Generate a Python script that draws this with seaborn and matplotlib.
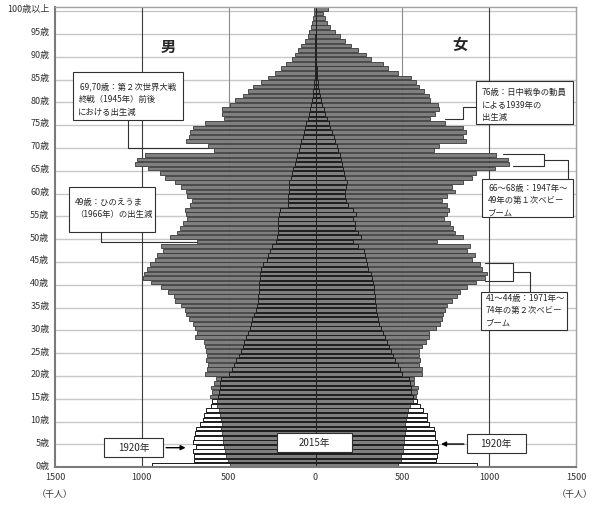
import pandas as pd
import matplotlib.pyplot as plt
import seaborn as sns
from matplotlib.patches import Rectangle

# population by single year of age (thousands), age 100 = 100歳以上
ages = list(range(101))

male_2015 = [
    494, 505, 515, 520, 525, 530, 535, 540, 545, 540,
    545, 550, 555, 565, 570, 609, 595, 603, 584, 571,
    634, 622, 618, 628, 622, 628, 634, 640, 692, 680,
    695, 705, 730, 743, 749, 772, 807, 814, 849, 891,
    945, 993, 987, 970, 955, 926, 911, 878, 891, 680,
    840, 795, 782, 763, 738, 744, 753, 724, 711, 738,
    744, 776, 811, 868, 897, 964, 1041, 1026, 984, 584,
    618, 744, 730, 724, 705, 634, 526, 538, 538, 494,
    461, 417, 388, 359, 311, 273, 235, 196, 167, 138,
    119, 100, 81, 60, 46, 35, 27, 19, 13, 8, 8,
]
female_2015 = [
    475, 490, 495, 505, 505, 510, 512, 515, 520, 515,
    520, 525, 535, 545, 560, 580, 585, 589, 570, 570,
    612, 612, 598, 604, 598, 598, 612, 636, 655, 655,
    694, 718, 726, 737, 745, 760, 788, 817, 832, 874,
    927, 978, 988, 958, 950, 904, 918, 874, 889, 700,
    851, 804, 791, 772, 738, 760, 766, 760, 728, 757,
    804, 785, 848, 904, 927, 1031, 1113, 1107, 1041, 681,
    709, 866, 851, 866, 848, 747, 658, 690, 709, 705,
    658, 652, 624, 596, 577, 548, 473, 419, 387, 321,
    293, 245, 207, 169, 141, 113, 84, 65, 52, 41, 70,
]
male_1920 = [
    940, 697, 697, 705, 686, 705, 697, 692, 686, 663,
    645, 641, 628, 603, 595, 560, 555, 550, 548, 545,
    497, 480, 470, 455, 440, 430, 420, 410, 400, 390,
    380, 372, 365, 355, 345, 334, 332, 330, 328, 326,
    325, 320, 317, 315, 300, 282, 273, 262, 250, 225,
    219, 218, 216, 215, 214, 212, 206, 160, 158, 156,
    155, 152, 150, 140, 135, 129, 120, 112, 105, 97,
    90, 82, 74, 66, 59, 52, 45, 38, 31, 25,
    19, 15, 12, 9, 7, 5, 4, 3, 2, 2,
    1, 1, 1, 1, 1, 0, 0, 0, 0, 0, 0,
]
female_1920 = [
    931, 694, 699, 703, 703, 699, 688, 688, 684, 655,
    642, 642, 617, 602, 585, 560, 550, 548, 545, 540,
    500, 485, 475, 460, 445, 433, 422, 410, 398, 387,
    376, 368, 362, 356, 351, 346, 343, 340, 338, 336,
    333, 325, 318, 304, 298, 292, 286, 279, 245, 217,
    260, 245, 230, 225, 217, 236, 217, 185, 176, 172,
    169, 175, 179, 170, 165, 158, 150, 145, 140, 132,
    125, 115, 105, 95, 85, 78, 65, 55, 47, 40,
    33, 27, 22, 17, 13, 10, 8, 6, 4, 3,
    2, 2, 1, 1, 1, 1, 0, 0, 0, 0, 0,
]

age_ticks = list(range(0, 101, 5))
age_labels = [f'{a}歳' for a in range(0, 100, 5)] + ['100歳以上']
x_ticks = [-1500, -1000, -500, 0, 500, 1000, 1500]
x_labels = ['1500', '1000', '500', '0', '500', '1000', '1500']

df = pd.DataFrame({
    'age': ages,
    'm2015': [-v for v in male_2015],
    'f2015': female_2015,
    'm1920': [-v for v in male_1920],
    'f1920': female_1920,
})

sns.set_style('white')
plt.rcParams['font.family'] = ['Noto Sans CJK JP', 'DejaVu Sans']

fig = plt.figure(figsize=(6, 5.13), dpi=100)
ax = fig.add_axes([55 / 600, 1 - 467.3 / 513, 521 / 600, 460.6 / 513])

# background grid
for a in age_ticks[1:]:
    ax.axhline(a - 0.5, color='#c8c8c8', lw=1.0, zorder=0)
ax.axvline(0, color='#c8c8c8', lw=0.8, zorder=0)
for xv in (-500, 500):
    ax.axvline(xv, color='#8c8c8c', lw=0.8, zorder=0)
for xv in (-1000, 1000):
    ax.axvline(xv, color='#3c3c3c', lw=0.8, zorder=0)

bar_kw = dict(y='age', orient='y', native_scale=True, errorbar=None,
              width=0.82, saturation=1, ax=ax)

# 1920 (white), 2015 (grey), then 1920 outline on top
for col in ['m1920', 'f1920']:
    sns.barplot(data=df, x=col, color='white', edgecolor='#303030', linewidth=0.6, **bar_kw)
for col in ['m2015', 'f2015']:
    sns.barplot(data=df, x=col, color='#7f7f7f', edgecolor='#383838', linewidth=0.6, **bar_kw)
for col in ['m1920', 'f1920']:
    sns.barplot(data=df, x=col, color='#202020', fill=False, linewidth=0.7, **bar_kw)

ax.set_xlim(-1500, 1500)
ax.set_ylim(-0.5, 100.5)
ax.set_yticks(age_ticks, age_labels)
ax.set_xticks(x_ticks, x_labels)
ax.tick_params(length=0, labelsize=6.5, colors='#333333', pad=4)
ax.set_xlabel('')
ax.set_ylabel('')
for side in ['left', 'bottom']:
    ax.spines[side].set_color('#7a7a7a')
    ax.spines[side].set_linewidth(1.5)
for side in ['top', 'right']:
    ax.spines[side].set_color('#a0a0a0')
    ax.spines[side].set_linewidth(1.0)

ax.text(-846, 91.7, '男', fontsize=11, fontweight='bold', ha='center', va='center')
ax.text(832, 92.1, '女', fontsize=11, fontweight='bold', ha='center', va='center')
ax.text(-1500, -6.4, '（千人）', fontsize=6.5, ha='center', va='center', color='#333333', clip_on=False)
ax.text(1495, -6.4, '（千人）', fontsize=6.5, ha='center', va='center', color='#333333', clip_on=False)


def box(x0, x1, y0, y1):
    ax.add_patch(Rectangle((x0, y0), x1 - x0, y1 - y0, facecolor='white',
                           edgecolor='#303030', lw=0.8, zorder=6, clip_on=False))


def path(xs, ys):
    ax.plot(xs, ys, color='#303030', lw=0.8, zorder=5, clip_on=False)


note_kw = dict(fontsize=6, ha='left', va='center', linespacing=1.5, zorder=7)

# 69,70歳
box(-1398, -761, 75.7, 86.1)
ax.text(-1365, 80.1, ' 69,70歳：第２次世界大戦\n終戦（1945年）前後\nにおける出生減', **note_kw)
path([-1079, -1079, -male_2015[70]], [75.7, 69.6, 69.6])

# 49歳
box(-1417, -922, 51.2, 60.9)
ax.text(-1384, 56.2, '49歳：ひのえうま\n（1966年）の出生減', **note_kw)
path([-1237, -1237, -male_2015[49]], [51.2, 48.8, 48.8])

# 76歳
box(924, 1484, 74.8, 84.1)
ax.text(957, 78.9, '76歳：日中戦争の動員\nによる1939年の\n出生減', **note_kw)
path([924, 847, 847, female_2015[75]], [78.5, 78.5, 75.9, 75.9])

# 66~68歳
box(960, 1484, 54.3, 62.7)
ax.text(995, 58.0, '66～68歳：1947年～\n49年の第１次ベビー\nブーム', **note_kw)
path([1078, 1315, 1315, 1135], [68.2, 68.2, 65.6, 65.6])
path([1315, 1452, 1452], [66.9, 66.9, 62.7])

# 41~44歳
box(953, 1446, 29.6, 38.0)
ax.text(982, 33.8, '41～44歳：1971年～\n74年の第２次ベビー\nブーム', **note_kw)
path([976, 1139, 1139, 976], [44.4, 44.4, 40.4, 40.4])
path([1139, 1235, 1235], [42.4, 42.4, 38.0])

# year labels
arrow = dict(arrowstyle='-|>', color='black', lw=1.0, mutation_scale=7)
box(-1216, -876, 1.7, 5.9)
ax.text(-1046, 3.8, '1920年', fontsize=7, ha='center', va='center', zorder=7)
ax.annotate('', xy=(-732, 3.8), xytext=(-876, 3.8), arrowprops=arrow, zorder=7)

box(-223, 208, 2.9, 6.95)
ax.text(-7, 4.9, '2015年', fontsize=7, ha='center', va='center', zorder=7)

box(870, 1210, 2.6, 6.7)
ax.text(1040, 4.6, '1920年', fontsize=7, ha='center', va='center', zorder=7)
ax.annotate('', xy=(707, 4.6), xytext=(870, 4.6), arrowprops=arrow, zorder=7)

fig.savefig('out.png', dpi=100, facecolor='white')
